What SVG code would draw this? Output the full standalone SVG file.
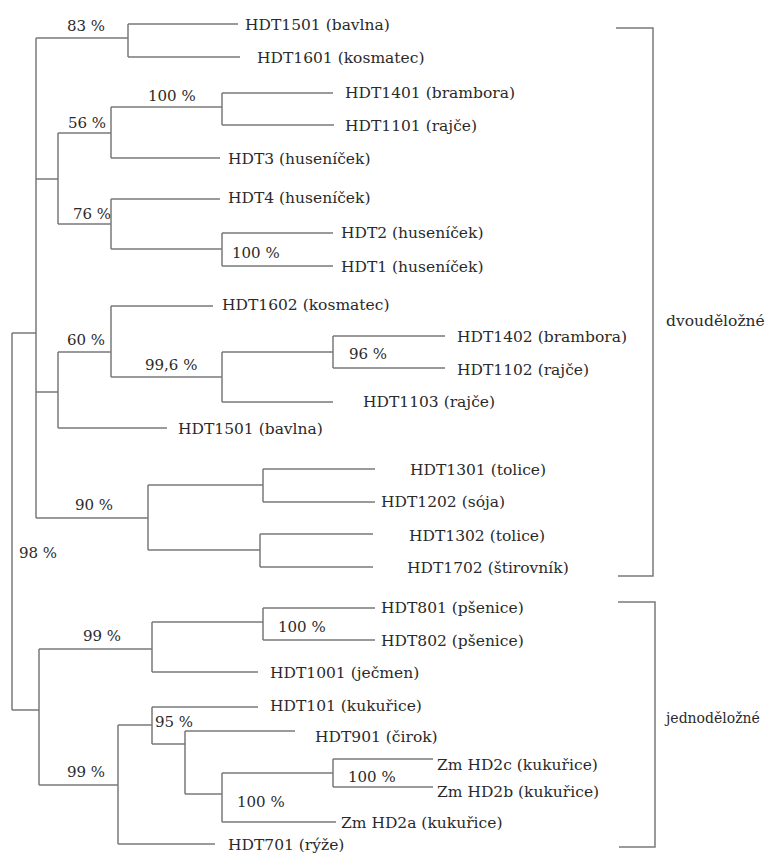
<svg xmlns="http://www.w3.org/2000/svg" width="768" height="854" viewBox="0 0 768 854">
<style>
.ln{fill:none;stroke:#7a7a7a;stroke-width:1.5}
.tx{font-family:'DejaVu Serif',serif;fill:#2a2a2a}
.lf{font-size:15.5px}
.pc{font-size:15px}
</style>
<rect width="768" height="854" fill="#fff"/>
<g id="connectors" class="ln">
<path d="M12,333 V710 M12,333 H36 M12,710 H39"/>
<path d="M36,38 V518 M36,38 H128 M36,179 H58 M36,392 H58 M36,518 H148"/>
<path d="M128,24 V57 M128,24 H238 M128,57 H240"/>
<path d="M58,133 V224 M58,133 H111 M58,224 H111"/>
<path d="M111,107 V158 M111,107 H222 M111,158 H220"/>
<path d="M222,93 V125 M222,93 H333 M222,125 H334"/>
<path d="M111,199 V249 M111,199 H220 M111,249 H222"/>
<path d="M222,233 V266 M222,233 H333 M222,266 H333"/>
<path d="M58,352 V428 M58,352 H111 M58,428 H167"/>
<path d="M111,306 V377 M111,306 H213 M111,377 H222"/>
<path d="M222,352 V402 M222,352 H333 M222,402 H333"/>
<path d="M333,336 V368 M333,336 H445 M333,368 H445"/>
<path d="M148,485 V550 M148,485 H263 M148,550 H260"/>
<path d="M263,469 V502 M263,469 H375 M263,502 H375"/>
<path d="M260,534 V567 M260,534 H373 M260,567 H373"/>
<path d="M39,649 V785 M39,649 H152 M39,785 H118"/>
<path d="M152,622 V672 M152,622 H263 M152,672 H258"/>
<path d="M263,608 V640 M263,608 H375 M263,640 H375"/>
<path d="M118,725 V844 M118,725 H152 M118,844 H215"/>
<path d="M152,707 V744 M152,707 H258 M152,744 H185"/>
<path d="M185,731 V794 M185,731 H295 M185,794 H222"/>
<path d="M222,773 V822 M222,773 H333 M222,822 H336"/>
<path d="M333,759 V787 M333,759 H433 M333,787 H433"/>
<path d="M616,28 H653 V576 H618"/>
<path d="M618,602 H655 V847 H619"/>
</g>
<g id="support" class="tx pc">
<text x="67" y="31">83 %</text>
<text x="148" y="101">100 %</text>
<text x="68" y="128">56 %</text>
<text x="73" y="219">76 %</text>
<text x="232" y="258">100 %</text>
<text x="67" y="345">60 %</text>
<text x="145" y="370">99,6 %</text>
<text x="349" y="359">96 %</text>
<text x="75" y="510">90 %</text>
<text x="19" y="558">98 %</text>
<text x="278" y="632">100 %</text>
<text x="83" y="641">99 %</text>
<text x="155" y="727">95 %</text>
<text x="67" y="777">99 %</text>
<text x="237" y="807">100 %</text>
<text x="348" y="782">100 %</text>
</g>
<g class="tx lf">
<g id="n1"><text x="245" y="30">HDT1501 (bavlna)</text></g>
<g id="n2"><text x="257" y="63">HDT1601 (kosmatec)</text></g>
<g id="n3"><text x="345" y="98">HDT1401 (brambora)</text></g>
<g id="n4"><text x="345" y="131">HDT1101 (rajče)</text></g>
<g id="n5"><text x="228" y="164">HDT3 (huseníček)</text></g>
<g id="n6"><text x="228" y="203">HDT4 (huseníček)</text></g>
<g id="n7"><text x="341" y="238">HDT2 (huseníček)</text></g>
<g id="n8"><text x="341" y="272">HDT1 (huseníček)</text></g>
<g id="n9"><text x="222" y="310">HDT1602 (kosmatec)</text></g>
<g id="n10"><text x="457" y="342">HDT1402 (brambora)</text></g>
<g id="n11"><text x="457" y="375">HDT1102 (rajče)</text></g>
<g id="n12"><text x="363" y="407">HDT1103 (rajče)</text></g>
<g id="n13"><text x="178" y="434">HDT1501 (bavlna)</text></g>
<g id="n14"><text x="410" y="475">HDT1301 (tolice)</text></g>
<g id="n15"><text x="381" y="507">HDT1202 (sója)</text></g>
<g id="n16"><text x="409" y="541">HDT1302 (tolice)</text></g>
<g id="n17"><text x="407" y="573">HDT1702 (štirovník)</text></g>
<g id="n18"><text x="381" y="613">HDT801 (pšenice)</text></g>
<g id="n19"><text x="381" y="646">HDT802 (pšenice)</text></g>
<g id="n20"><text x="270" y="678">HDT1001 (ječmen)</text></g>
<g id="n21"><text x="270" y="711">HDT101 (kukuřice)</text></g>
<g id="n22"><text x="315" y="742">HDT901 (čirok)</text></g>
<g id="n23"><text x="437" y="770">Zm HD2c (kukuřice)</text></g>
<g id="n24"><text x="437" y="797">Zm HD2b (kukuřice)</text></g>
<g id="n25"><text x="341" y="828">Zm HD2a (kukuřice)</text></g>
<g id="n26"><text x="228" y="850">HDT701 (rýže)</text></g>
<g id="g1"><text x="666" y="326">dvouděložné</text></g>
<g id="g2"><text x="666" y="723" font-size="14">jednoděložné</text></g>
</g>
</svg>
